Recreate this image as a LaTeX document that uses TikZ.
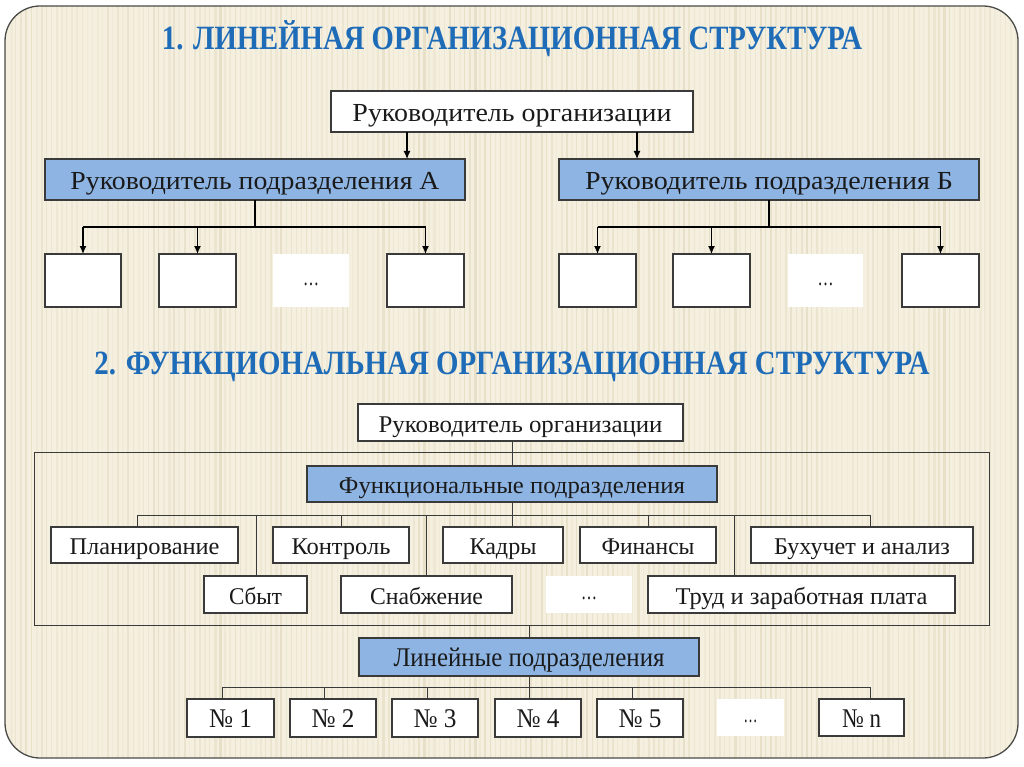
\documentclass[tikz,border=0pt]{standalone}
\usepackage{fontspec}
\setmainfont{Liberation Serif}
\usepackage{graphicx}
\usetikzlibrary{arrows.meta}
\definecolor{bgc}{HTML}{F4EFDF}
\definecolor{stripec}{HTML}{DCD2B4}
\definecolor{ttl}{HTML}{1E6BB8}
\definecolor{bluef}{HTML}{8DB4E2}
\definecolor{edge}{HTML}{3A3A3A}
\definecolor{txt}{HTML}{1A1A1A}
\definecolor{frameline}{HTML}{4A4A48}
\newcommand\fitw[2]{\resizebox{#1}{\height}{#2}}
\begin{document}
\begin{tikzpicture}[x=1pt,y=-1pt,
  box/.style={draw=edge, line width=1.3pt, fill=white, inner sep=0pt, outer sep=0pt, text=txt, text height=19.5pt, text depth=0pt},
  bbox/.style={box, fill=bluef},
  dotbox/.style={fill=white, inner sep=0pt, outer sep=0pt, text=txt, text height=10pt, text depth=0pt},
  wh/.style 2 args={minimum width=#1, minimum height=#2},
  arr/.style={draw=black, line width=1.2pt, -{Latex[length=8pt,width=7pt]}},
  lnone/.style={draw=black, line width=1.2pt},
  ln/.style={draw=edge, line width=1pt},
  ttlstyle/.style={text=ttl, font=\fontsize{34}{38}\selectfont\bfseries, inner sep=0pt, anchor=base},
  fa/.style={font=\fontsize{26}{30}\selectfont},
  fb/.style={font=\fontsize{24}{28}\selectfont},
  fc/.style={font=\fontsize{27}{30}\selectfont},
]
\useasboundingbox (0,0) rectangle (1024,767);
\fill[white] (0,0) rectangle (1024,767);
% background
\begin{scope}
\clip[rounded corners=35pt] (5,6) rectangle (1018,758);
\fill[bgc] (0,0) rectangle (1024,767);
\pgfmathsetseed{42}
\foreach \i in {0,...,200}{
  \pgfmathsetmacro{\xx}{5+5.1*\i}
  \pgfmathsetmacro{\op}{0.12+0.4*rnd}
  \pgfmathsetmacro{\ww}{1+1.5*rnd}
  \fill[stripec, opacity=\op] (\xx,0) rectangle ++(\ww,767);
}
\end{scope}
\draw[draw=frameline, line width=1.3pt, rounded corners=35pt] (5,6) rectangle (1018,758);

% titles
\node[ttlstyle] (t1) at (512,50) {\fitw{700pt}{1. ЛИНЕЙНАЯ ОРГАНИЗАЦИОННАЯ СТРУКТУРА}};
\node[ttlstyle] (t2) at (512,374) {\fitw{835pt}{2. ФУНКЦИОНАЛЬНАЯ ОРГАНИЗАЦИОННАЯ СТРУКТУРА}};

% ---------- section 1 ----------
\node[box, fa, wh={362}{41}] (top1) at (512,111.5) {\fitw{319pt}{Руководитель организации}};
\node[bbox, fa, wh={420}{41}] (A) at (255,179.5) {\fitw{369pt}{Руководитель подразделения А}};
\node[bbox, fa, wh={420}{41}] (B) at (769,179.5) {\fitw{368pt}{Руководитель подразделения Б}};
\node[box, wh={76}{53}] (a1) at (83,280.5) {};
\node[box, wh={77}{53}] (a2) at (197.5,280.5) {};
\node[dotbox, fb, wh={76}{53}] (a3) at (311,280.5) {\fitw{16pt}{…}};
\node[box, wh={77}{53}] (a4) at (425.5,280.5) {};
\node[box, wh={77}{53}] (b1) at (597.5,280.5) {};
\node[box, wh={77}{53}] (b2) at (711.5,280.5) {};
\node[dotbox, fb, wh={75}{53}] (b3) at (825.5,280.5) {\fitw{16pt}{…}};
\node[box, wh={77}{53}] (b4) at (940.5,280.5) {};

\coordinate (xA) at (407,0);
\coordinate (xB) at (637,0);
\draw[arr] (top1.south -| xA) -- (xA |- A.north);
\draw[arr] (top1.south -| xB) -- (xB |- B.north);
\coordinate (busA) at (255,227);
\coordinate (busB) at (769,227);
\draw[lnone] (A.south) -- (busA);
\draw[lnone] (B.south) -- (busB);
\draw[lnone] (busA -| a1.north) -- (busA -| a4.north);
\draw[lnone] (busB -| b1.north) -- (busB -| b4.north);
\foreach \n in {a1,a2,a4}{\draw[arr] (busA -| \n.north) -- (\n.north);}
\foreach \n in {b1,b2,b4}{\draw[arr] (busB -| \n.north) -- (\n.north);}

% ---------- section 2 ----------
\node[draw=edge, line width=1pt, inner sep=0pt, outer sep=0pt, wh={955}{173}] (frame) at (511.5,538.5) {};
\node[box, fb, wh={325}{37}] (top2) at (520.5,422.5) {\fitw{284pt}{Руководитель организации}};
\node[bbox, fb, wh={410}{36}] (F) at (512,484) {\fitw{346pt}{Функциональные подразделения}};
\node[box, fb, wh={187}{36}] (plan) at (144.5,545) {\fitw{150pt}{Планирование}};
\node[box, fb, wh={136}{36}] (kontr) at (341,545) {\fitw{99pt}{Контроль}};
\node[box, fb, wh={120}{36}] (kadry) at (503,545) {\fitw{67pt}{Кадры}};
\node[box, fb, wh={136}{36}] (fin) at (648,545) {\fitw{93pt}{Финансы}};
\node[box, fb, wh={222}{36}] (buh) at (862,545) {\fitw{176pt}{Бухучет и анализ}};
\node[box, fb, wh={103}{37}] (sbyt) at (255.5,594.5) {\fitw{53pt}{Сбыт}};
\node[box, fb, wh={171}{37}] (snab) at (426.5,594.5) {\fitw{113pt}{Снабжение}};
\node[dotbox, fb, wh={86}{37}] (dots2) at (589,594.5) {\fitw{16pt}{…}};
\node[box, fb, wh={307}{37}] (trud) at (801.5,594.5) {\fitw{252pt}{Труд и заработная плата}};

\draw[ln] (top2.south -| F.north) -- (F.north);
\coordinate (busF) at (512,515);
\draw[ln] (F.south) -- (busF);
\foreach \x/\n in {137/plan,256/sbyt,341/kontr,426/snab,512/kadry,648/fin,734/trud,870/buh}{
  \coordinate (v\n) at (\x,515);
  \draw[ln] (v\n) -- (v\n |- \n.north);
}
\draw[ln] (vplan) -- (vbuh);

\node[bbox, fc, wh={340}{38}] (lin) at (529,657) {\fitw{271pt}{Линейные подразделения}};
\node[box, fc, wh={87}{38}] (n1) at (230.5,718) {\fitw{43pt}{№ 1}};
\node[box, fc, wh={86}{38}] (n2) at (333,718) {\fitw{43pt}{№ 2}};
\node[box, fc, wh={86}{38}] (n3) at (435,718) {\fitw{43pt}{№ 3}};
\node[box, fc, wh={86}{38}] (n4) at (538,718) {\fitw{43pt}{№ 4}};
\node[box, fc, wh={86}{38}] (n5) at (640,718) {\fitw{43pt}{№ 5}};
\node[dotbox, fb, wh={67}{37}] (dots3) at (750.5,717.5) {\fitw{14pt}{…}};
\node[box, fc, wh={85}{37}] (nn) at (861.5,717.5) {\fitw{39pt}{№ n}};

\draw[ln] (lin.north |- frame.south) -- (lin.north);
\coordinate (busL) at (529,687);
\draw[ln] (lin.south) -- (busL);
\foreach \x/\n in {222/n1,324/n2,427/n3,529/n4,632/n5,870/nn}{
  \coordinate (w\n) at (\x,687);
  \draw[ln] (w\n) -- (w\n |- \n.north);
}
\draw[ln] (wn1) -- (wnn);
\end{tikzpicture}
\end{document}
